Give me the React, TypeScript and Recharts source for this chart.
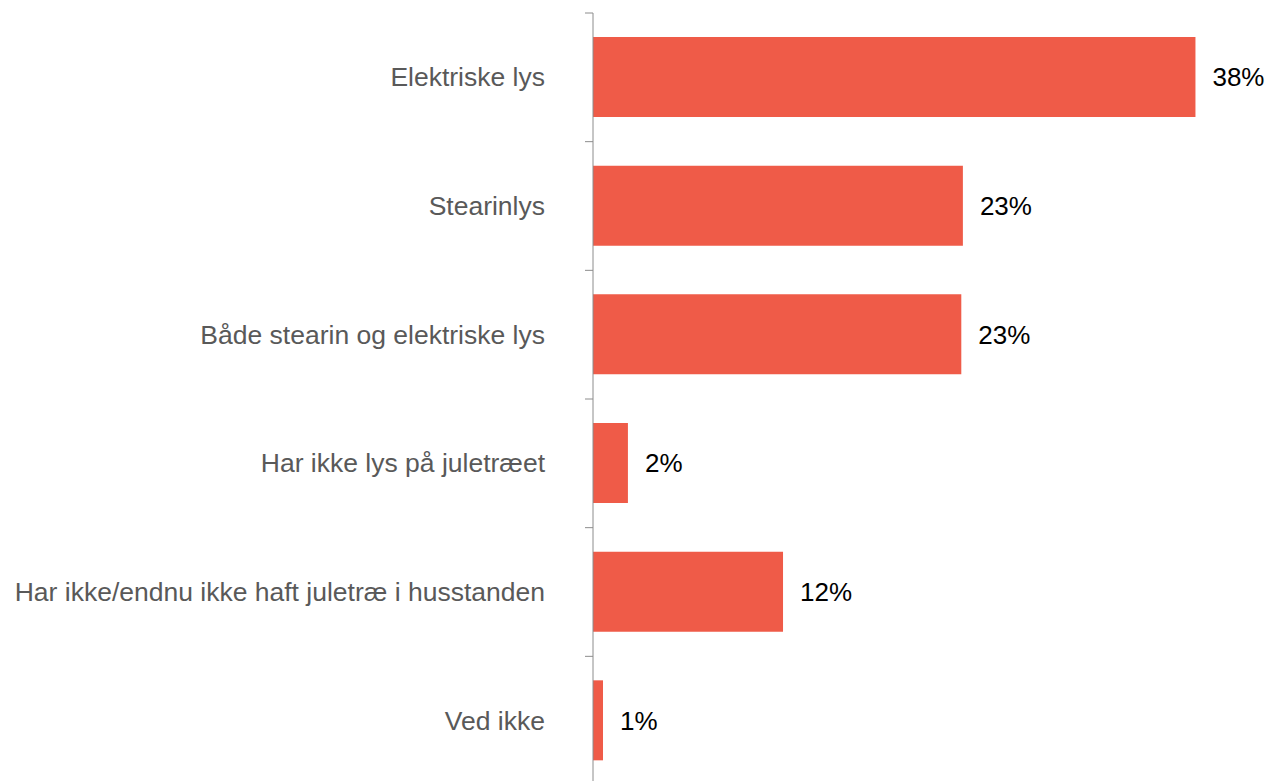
import { Bar, BarChart, LabelList, XAxis, YAxis } from "recharts";

const categories = [
  "Elektriske lys",
  "Stearinlys",
  "Både stearin og elektriske lys",
  "Har ikke lys på juletræet",
  "Har ikke/endnu ikke haft juletræ i husstanden",
  "Ved ikke",
];
const shares = [37.95, 23.3, 23.2, 2.2, 11.97, 0.63];

const data = categories.map((name, i) => ({ name, share: shares[i] }));

const BAR = "#EF5B48";
const AXIS = "#8c8c8c";

function CategoryTick(props: any) {
  const { x, y, payload } = props;
  const half = payload?.offset ?? 64.3;
  const axisX = x + 8;
  return (
    <g>
      <line x1={axisX - 8} x2={axisX} y1={y - half} y2={y - half} stroke={AXIS} strokeWidth={1} />
      <text
        x={axisX - 48}
        y={y}
        textAnchor="end"
        dominantBaseline="central"
        fill="#595959"
        fontSize={26.5}
        fontFamily="'Liberation Sans', Arial, sans-serif"
      >
        {payload.value}
      </text>
    </g>
  );
}

export default function App() {
  return (
    <div style={{ position: "absolute", left: 0, top: 0, width: 1269, height: 781, overflow: "hidden", background: "#fff" }}>
      <BarChart
        width={1269}
        height={790}
        data={data}
        layout="vertical"
        margin={{ top: 13, right: 41, bottom: 5, left: 0 }}
        barSize={80}
      >
        <XAxis type="number" domain={[0, 40]} hide />
        <YAxis
          type="category"
          dataKey="name"
          width={593}
          axisLine={{ stroke: AXIS, strokeWidth: 1 }}
          tickLine={false}
          tickSize={0}
          tickMargin={8}
          tick={<CategoryTick />}
          interval={0}
        />
        <Bar dataKey="share" fill={BAR} isAnimationActive={false}>
          <LabelList
            dataKey="share"
            position="right"
            offset={17}
            fill="#000"
            fontSize={26}
            fontFamily="'Liberation Sans', Arial, sans-serif"
            formatter={(v: any) => `${Math.round(Number(v))}%`}
          />
        </Bar>
      </BarChart>
    </div>
  );
}
